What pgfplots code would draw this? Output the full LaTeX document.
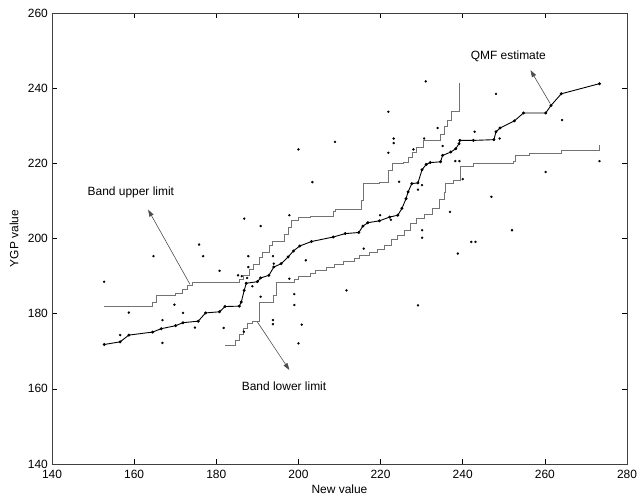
\documentclass[border=0pt]{standalone}
\usepackage{fontspec}
\setmainfont{Liberation Sans}
\usepackage{pgfplots}
\pgfplotsset{compat=1.18}
\usetikzlibrary{arrows.meta,calc}

\begin{document}
\fontsize{12}{14}\selectfont
\begin{tikzpicture}
\begin{axis}[
    name=ax,
    scale only axis,
    width=575bp,
    height=451bp,
    xmin=140, xmax=280,
    ymin=140, ymax=260,
    xtick={140,160,...,280},
    ytick={140,160,...,260},
    tick pos=both,
    tick align=inside,
    major tick length=5bp,
    axis line style={black!75, line width=0.7pt},
    tick style={black, line width=0.5pt},
    xticklabel style={yshift=-2bp},
    xlabel={New value},
    ylabel={YGP value},
    xlabel style={at={(axis description cs:0.5,-0.057)}, anchor=center},
    ylabel style={at={(axis description cs:-0.066,0.5)}, anchor=center},
    /pgf/number format/assume math mode=true,
    clip=false,
]
% band upper limit
\addplot [const plot, black!55, line width=0.7pt] coordinates {
    (152.7,182.0) (164.4,183.0) (165.5,184.9) (170.0,185.5) (171.8,186.5)
    (173.0,187.5) (174.2,188.4) (185.5,189.2) (186.5,190.2) (188.0,191.8)
    (189.0,193.2) (190.5,195.0) (191.3,196.2) (192.8,198.3) (193.6,199.3)
    (196.5,201.0) (197.5,203.0) (198.3,204.8) (200.0,205.6) (203.0,206.0)
    (208.5,207.2) (209.0,207.8) (215.2,210.2) (215.8,214.6) (219.8,215.0)
    (221.9,218.2) (222.8,219.9) (225.5,220.3) (226.7,221.5) (227.7,223.0)
    (228.7,224.3) (230.5,226.1) (234.5,227.8) (235.5,229.8) (236.2,231.5)
    (237.2,233.7) (239.3,241.5)
};
% band lower limit
\addplot [const plot, black!55, line width=0.7pt] coordinates {
    (182.2,171.6) (184.7,173.0) (185.6,174.5) (186.5,176.0) (187.5,177.4)
    (188.8,177.9) (190.5,183.0) (194.0,185.0) (194.6,188.2) (199.0,189.0)
    (200.0,189.8) (203.0,190.6) (204.0,191.6) (206.8,192.4) (208.8,193.0)
    (211.0,193.8) (213.6,194.6) (214.8,195.6) (217.3,196.2) (219.3,197.2)
    (221.0,198.3) (222.7,199.7) (224.2,200.9) (225.7,202.2) (227.2,203.9)
    (228.7,205.3) (230.7,206.5) (232.7,208.0) (234.2,210.3) (235.5,212.4)
    (235.8,214.6) (237.7,215.6) (239.5,219.3) (242.6,219.9) (252.4,220.6)
    (252.8,222.2) (256.2,222.7) (264.0,223.5) (273.3,224.8)
};
% QMF estimate
\addplot [black, line width=0.9pt, mark=*, mark size=1.0pt] coordinates {
    (152.7,171.8) (156.6,172.5) (158.7,174.3) (164.5,175.1) (166.6,176.0)
    (170.1,176.8) (171.9,177.6) (175.6,178.0) (177.4,180.2) (180.8,180.5)
    (182.1,181.9) (185.6,182.0) (186.1,183.1) (186.8,186.2) (187.3,188.1)
    (190.0,188.5) (190.8,189.5) (192.8,190.2) (194.0,192.4) (195.8,193.3)
    (197.5,195.1) (198.8,196.7) (200.3,198.0) (203.2,199.2) (208.5,200.4)
    (211.4,201.3) (214.7,201.6) (215.7,203.3) (216.9,204.2) (219.7,204.7)
    (222.2,205.7) (224.2,206.2) (225.2,208.0) (226.2,210.6) (226.7,212.4)
    (227.6,214.6) (229.1,214.8) (230.1,218.3) (231.1,219.7) (232.1,220.2)
    (234.6,220.4) (235.1,222.1) (237.1,223.0) (238.3,223.9) (239.1,225.2)
    (239.3,226.1) (242.6,226.1) (247.6,226.3) (248.1,228.4) (249.1,229.4)
    (252.6,231.3) (254.8,233.4) (260.2,233.4) (261.5,235.4) (264.0,238.5)
    (273.3,241.2)
};
% observations
\addplot [only marks, mark=*, mark size=1.0pt, black] coordinates {
    (152.7,188.5) (164.7,195.3) (158.7,180.3) (169.8,182.4) (171.9,180.2)
    (166.9,178.3) (166.9,172.2) (156.6,174.3) (175.8,198.4) (176.8,195.3)
    (174.8,176.3) (180.8,191.4) (181.8,176.2) (186.8,205.3) (187.8,195.3)
    (190.8,203.3) (187.8,192.4) (188.8,187.3) (185.3,190.2) (186.2,190.0)
    (187.5,189.5) (190.8,184.5) (193.8,195.3) (194.0,193.3) (193.8,178.3)
    (193.8,177.2) (197.8,206.2) (197.8,189.3) (199.0,185.2) (199.0,182.3)
    (200.0,223.7) (200.0,172.1) (200.8,177.1) (201.8,194.2) (203.4,215.0)
    (208.9,225.7) (211.7,186.2) (215.9,197.3) (219.9,206.2) (221.9,233.7)
    (221.9,222.8) (223.2,226.6) (223.2,225.4) (224.5,215.1) (222.5,205.0)
    (233.9,229.4) (235.1,224.6) (230.6,226.6) (228.0,223.7) (229.1,213.0)
    (230.1,214.2) (230.1,202.2) (230.1,200.2) (229.1,182.2) (231.0,241.8)
    (238.2,220.6) (239.2,220.6) (236.9,207.1) (238.8,196.0) (240.0,215.8)
    (242.1,199.1) (243.1,199.1) (242.9,228.4) (247.0,211.1) (248.1,238.5)
    (249.0,226.6) (252.0,202.2) (260.2,217.7) (264.2,231.5) (273.3,220.6)
    (186.7,175.2)
};
% annotations
\draw [black!70, line width=0.6pt, -{Triangle[length=7bp,width=4.5bp]}]
    (axis cs:173.6,187.8) -- (axis cs:163.4,207.7);
\draw [black!70, line width=0.6pt, -{Triangle[length=7bp,width=4.5bp]}]
    (axis cs:261.3,235.9) -- (axis cs:256.5,244.8);
\draw [black!70, line width=0.6pt, -{Triangle[length=7bp,width=4.5bp]}]
    (axis cs:190.0,177.8) -- (axis cs:197.8,165.0);
\node at (axis cs:159.2,212.2) {Band upper limit};
\node at (axis cs:251.1,248.5) {QMF estimate};
\node at (axis cs:196.5,160.8) {Band lower limit};
\end{axis}
\pgfresetboundingbox
\path [use as bounding box] ($(ax.south west)+(-52bp,-32bp)$) rectangle ($(ax.north east)+(13bp,13bp)$);
\end{tikzpicture}
\end{document}
